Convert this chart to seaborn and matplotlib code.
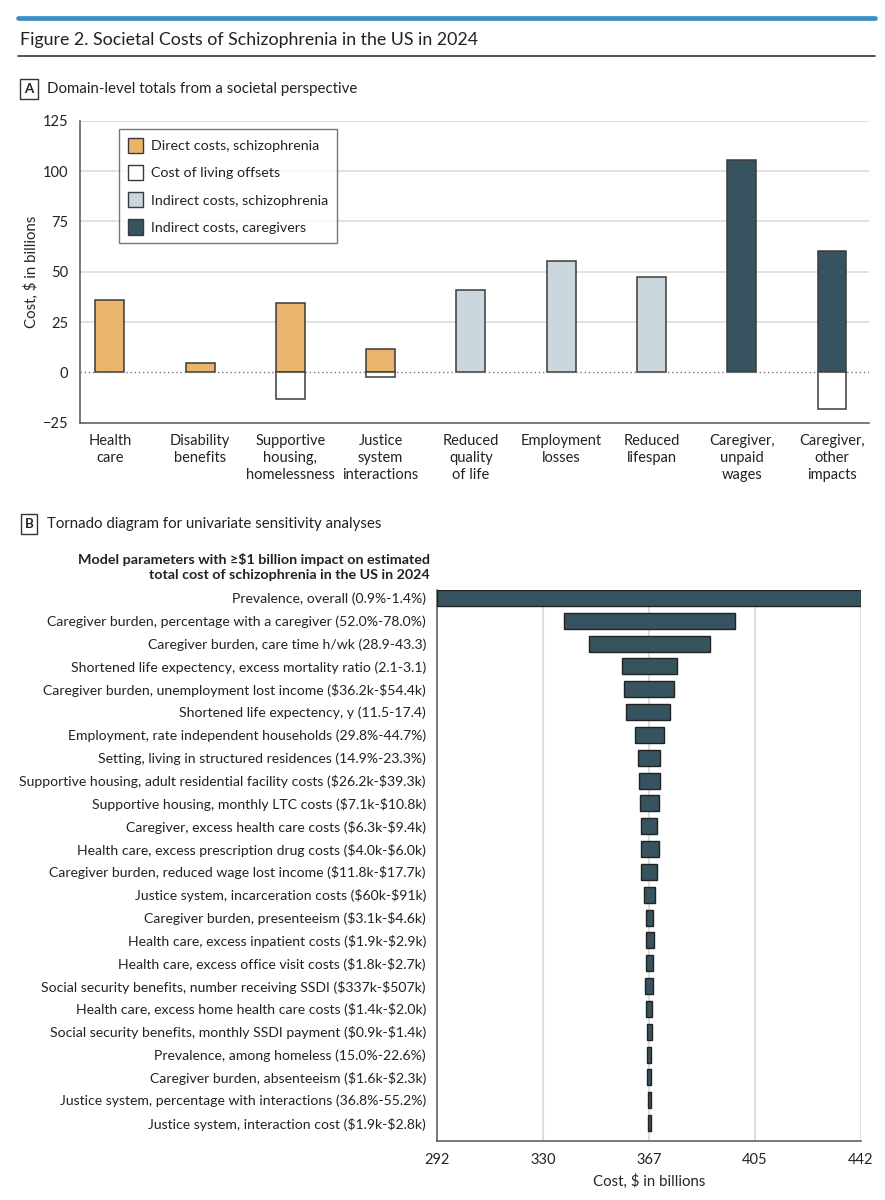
import numpy as np
import pandas as pd
import matplotlib
matplotlib.use("Agg")
import matplotlib.pyplot as plt
import seaborn as sns
from matplotlib.patches import Patch
from matplotlib.lines import Line2D

# Panel A data: domain-level totals ($ billions)
categories = ["Health\ncare", "Disability\nbenefits", "Supportive\nhousing,\nhomelessness",
              "Justice\nsystem\ninteractions", "Reduced\nquality\nof life", "Employment\nlosses",
              "Reduced\nlifespan", "Caregiver,\nunpaid\nwages", "Caregiver,\nother\nimpacts"]
domains = ["Direct costs, schizophrenia"] * 4 + ["Indirect costs, schizophrenia"] * 3 + \
          ["Indirect costs, caregivers"] * 2
costs = [36.0, 4.9, 34.5, 11.8, 41.1, 55.3, 47.4, 105.3, 60.5]
offset_cats = ["Supportive\nhousing,\nhomelessness", "Justice\nsystem\ninteractions",
               "Caregiver,\nother\nimpacts"]
offsets = [-13.1, -2.5, -18.4]

# Panel B data: tornado diagram ($ billions)
params = [
    "Prevalence, overall (0.9%-1.4%)",
    "Caregiver burden, percentage with a caregiver (52.0%-78.0%)",
    "Caregiver burden, care time h/wk (28.9-43.3)",
    "Shortened life expectency, excess mortality ratio (2.1-3.1)",
    "Caregiver burden, unemployment lost income (\\$36.2k-\\$54.4k)",
    "Shortened life expectency, y (11.5-17.4)",
    "Employment, rate independent households (29.8%-44.7%)",
    "Setting, living in structured residences (14.9%-23.3%)",
    "Supportive housing, adult residential facility costs (\\$26.2k-\\$39.3k)",
    "Supportive housing, monthly LTC costs (\\$7.1k-\\$10.8k)",
    "Caregiver, excess health care costs (\\$6.3k-\\$9.4k)",
    "Health care, excess prescription drug costs (\\$4.0k-\\$6.0k)",
    "Caregiver burden, reduced wage lost income (\\$11.8k-\\$17.7k)",
    "Justice system, incarceration costs (\\$60k-\\$91k)",
    "Caregiver burden, presenteeism (\\$3.1k-\\$4.6k)",
    "Health care, excess inpatient costs (\\$1.9k-\\$2.9k)",
    "Health care, excess office visit costs (\\$1.8k-\\$2.7k)",
    "Social security benefits, number receiving SSDI (\\$337k-\\$507k)",
    "Health care, excess home health care costs (\\$1.4k-\\$2.0k)",
    "Social security benefits, monthly SSDI payment (\\$0.9k-\\$1.4k)",
    "Prevalence, among homeless (15.0%-22.6%)",
    "Caregiver burden, absenteeism (\\$1.6k-\\$2.3k)",
    "Justice system, percentage with interactions (36.8%-55.2%)",
    "Justice system, interaction cost (\\$1.9k-\\$2.8k)",
]
low = [292.0, 336.8, 345.7, 357.6, 358.1, 359.0, 362.2, 363.0, 363.3, 363.9, 364.3, 364.0,
       364.3, 365.2, 365.8, 365.8, 365.8, 365.5, 366.1, 366.2, 366.2, 366.3, 366.5, 366.6]
high = [442.0, 397.6, 388.5, 376.8, 375.8, 374.5, 372.2, 370.9, 370.9, 370.4, 370.0, 370.4,
        369.9, 369.1, 368.5, 368.7, 368.4, 368.5, 368.1, 367.9, 367.8, 367.7, 367.7, 367.7]
x_ticks = [292, 329.5, 367, 404.5, 442]
x_ticklabels = ["292", "330", "367", "405", "442"]

palette = {"Direct costs, schizophrenia": "#EBB46C",
           "Indirect costs, schizophrenia": "#CCD7DD",
           "Indirect costs, caregivers": "#36535F"}
edge = "#3a3a3a"
grid_c = "#DEDEDE"
spine_c = "#555555"

sns.set_style("white")
plt.rcParams["font.family"] = ["Lato", "DejaVu Sans"]
plt.rcParams["font.size"] = 10.2
plt.rcParams["text.color"] = "#222222"
plt.rcParams["xtick.color"] = spine_c
plt.rcParams["ytick.color"] = spine_c
plt.rcParams["xtick.labelcolor"] = "#222222"
plt.rcParams["ytick.labelcolor"] = "#222222"

W, H = 885, 1200
fig = plt.figure(figsize=(8.85, 12), dpi=100)

def fx(px):
    return px / W

def fy(py):
    return 1 - py / H

# header
fig.add_artist(Line2D([fx(18), fx(875)], [fy(18), fy(18)], color="#3A8FC4", lw=3.4))
fig.text(fx(20), fy(40), "Figure 2. Societal Costs of Schizophrenia in the US in 2024",
         fontsize=12.8, va="center", ha="left")
fig.add_artist(Line2D([fx(18), fx(875)], [fy(56), fy(56)], color="#333333", lw=1.2))

box = dict(boxstyle="square,pad=0.3", fc="white", ec="#333333", lw=1)
fig.text(fx(29), fy(89), "A", fontsize=9.5, weight="bold", ha="center", va="center", bbox=box)
fig.text(fx(47), fy(89), "Domain-level totals from a societal perspective", fontsize=10.8,
         ha="left", va="center")
fig.text(fx(29), fy(524), "B", fontsize=9.5, weight="bold", ha="center", va="center", bbox=box)
fig.text(fx(47), fy(524), "Tornado diagram for univariate sensitivity analyses", fontsize=10.8,
         ha="left", va="center")

# ---- Panel A ----
ax_a = fig.add_axes([fx(80), fy(422.7), fx(869) - fx(80), fy(120.7) - fy(422.7)])
sns.barplot(x=categories, y=costs, hue=domains, palette=palette, order=categories,
            hue_order=list(palette), dodge=False, width=0.32, saturation=1,
            edgecolor=edge, linewidth=1.1, legend=False, ax=ax_a, zorder=3)
sns.barplot(x=offset_cats, y=offsets, order=categories, color="white", width=0.32,
            saturation=1, edgecolor=edge, linewidth=1.1, ax=ax_a, zorder=3)
ax_a.set_ylim(-25, 125)
ax_a.set_xlim(-0.33, 8.41)
ax_a.set_yticks([-25, 0, 25, 50, 75, 100, 125])
ax_a.set_xticks(range(len(categories)))
ax_a.set_xticklabels(categories, fontsize=10.5, linespacing=1.3)
ax_a.tick_params(axis="both", direction="out", length=5, width=1, labelsize=10.5)
ax_a.tick_params(axis="x", pad=3)
for yv in [25, 50, 75, 100, 125]:
    ax_a.axhline(yv, color=grid_c, lw=1.3, zorder=0)
ax_a.axhline(0, color="#777777", lw=1, ls=(0, (1, 2)), zorder=4)
for s in ["top", "right"]:
    ax_a.spines[s].set_visible(False)
for s in ["left", "bottom"]:
    ax_a.spines[s].set_color(spine_c)
    ax_a.spines[s].set_linewidth(1.1)
ax_a.set_xlabel("")
ax_a.set_ylabel("Cost, $ in billions", fontsize=10.8, labelpad=3)

handles = [Patch(fc=palette["Direct costs, schizophrenia"], ec=edge, label="Direct costs, schizophrenia"),
           Patch(fc="white", ec=edge, label="Cost of living offsets"),
           Patch(fc=palette["Indirect costs, schizophrenia"], ec=edge, label="Indirect costs, schizophrenia"),
           Patch(fc=palette["Indirect costs, caregivers"], ec=edge, label="Indirect costs, caregivers")]
leg = ax_a.legend(handles=handles, loc="upper left", bbox_to_anchor=(fx(119), fy(129)),
                  bbox_transform=fig.transFigure, frameon=True, fancybox=False,
                  fontsize=10.3, handlelength=1.1, handleheight=1.25, labelspacing=0.85,
                  borderpad=0.6, handletextpad=0.55, borderaxespad=0)
leg.get_frame().set_edgecolor("#555555")
leg.get_frame().set_linewidth(1)
leg.set_zorder(5)

# ---- Panel B ----
ax_b = fig.add_axes([fx(437), fy(1140.7), fx(861) - fx(437), fy(590) - fy(1140.7)])
spans = np.array(high) - np.array(low)
sns.barplot(x=spans, y=params, left=low, orient="h", color=palette["Indirect costs, caregivers"],
            saturation=1, width=0.7, edgecolor="#222222", linewidth=1, ax=ax_b, zorder=3)
ax_b.set_xlim(292, 442)
ax_b.set_ylim(len(params) - 1 + 0.775, -0.35)
ax_b.set_xticks(x_ticks)
ax_b.set_xticklabels(x_ticklabels)
for xv in x_ticks[1:]:
    ax_b.axvline(xv, color=grid_c, lw=1.5, zorder=0)
ax_b.tick_params(axis="x", direction="out", length=5, width=1, labelsize=10.5)
ax_b.tick_params(axis="y", direction="out", length=5, width=1, labelsize=10.1, pad=3)
for s in ["top", "right"]:
    ax_b.spines[s].set_visible(False)
for s in ["left", "bottom"]:
    ax_b.spines[s].set_color(spine_c)
    ax_b.spines[s].set_linewidth(1.1)
ax_b.set_ylabel("")
ax_b.set_xlabel("Cost, $ in billions", fontsize=10.8, labelpad=5)

fig.text(fx(430), fy(567),
         "Model parameters with \u2265\\$1 billion impact on estimated\ntotal cost of schizophrenia in the US in 2024",
         fontsize=10.3, weight="bold", ha="right", va="center", linespacing=1.3)

fig.savefig("out.png", dpi=100)
